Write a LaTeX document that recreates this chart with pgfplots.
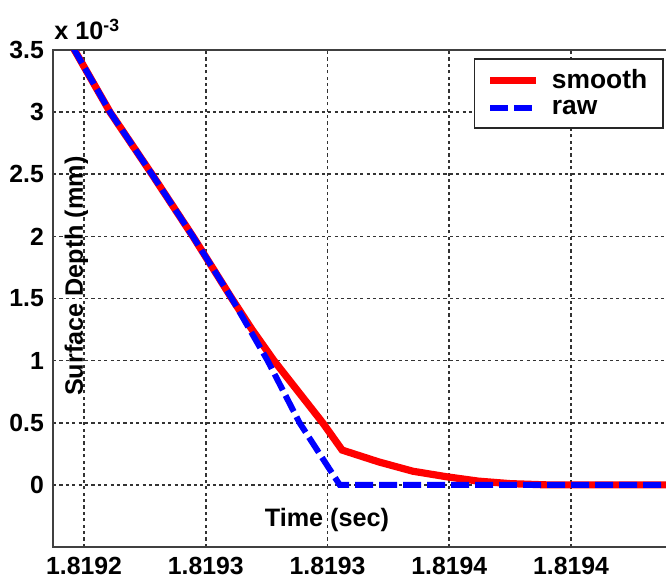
\documentclass[border=0pt]{standalone}
\usepackage{pgfplots}
\pgfplotsset{compat=1.18}
\usepackage{fontspec}
\setmainfont{Liberation Sans}

% x is stored as (t - 1.8192 s) in units of 1e-5 s; y in units of 1e-3 mm
\begin{document}
\begin{tikzpicture}[x=1pt,y=1pt]
\begin{axis}[
  name=ax,
  at={(26.5pt,16.5pt)}, anchor=south west,
  scale only axis, width=307.5pt, height=248.5pt,
  xmin=-1.273, xmax=23.98, ymin=-0.5, ymax=3.5,
  xtick={0,5,10,15,20},
  xticklabels={1.8192,1.8193,1.8193,1.8194,1.8194},
  ytick={0,0.5,1,1.5,2,2.5,3,3.5},
  yticklabels={0,0.5,1,1.5,2,2.5,3,3.5},
  grid=major,
  major grid style={black!80, line width=0.85pt, dash pattern=on 1.6pt off 1.6pt},
  major tick length=0pt,
  axis line style={black!75, line width=1.1pt},
  tick label style={font=\bfseries\fontsize{12.4}{14}\selectfont},
  xticklabel style={yshift=-2.5pt, inner ysep=2.5pt},
  yticklabel style={xshift=-1pt},
  xlabel={Time (sec)},
  ylabel={Surface Depth (mm)},
  label style={font=\bfseries\fontsize{12.6}{14}\selectfont},
  xlabel style={at={(axis description cs:0.4455,0.054)}, anchor=center},
  ylabel style={at={(axis description cs:0.038,0.545)}, anchor=center},
  legend cell align=left,
  legend style={at={(0.9935,0.984)}, anchor=north east,
    draw=black!85, line width=0.8pt, fill=white,
    font=\bfseries\fontsize{13.2}{15}\selectfont,
    inner xsep=6pt, inner ysep=3.5pt,
    /tikz/every odd column/.append style={column sep=4pt},
    /tikz/every even column/.append style={column sep=3pt}},
  legend image code/.code={\draw[#1] (0pt,0pt) -- (23pt,0pt);},
]
\addplot[red, line width=3.6pt] coordinates {
  (-0.45,3.52) (1.07,3) (2.79,2.5) (4.47,2) (6.07,1.5) (6.9,1.25)
  (7.8,1.0) (8.8,0.75) (9.8,0.5) (10.6,0.28) (12.1,0.185) (13.5,0.11)
  (14.9,0.065) (16.2,0.03) (17.5,0.01) (19,0) (24.5,0)
};
\addlegendentry{smooth}
\addplot[blue, line width=3pt, dash pattern=on 9pt off 3pt] coordinates {
  (-0.45,3.52) (1.07,3) (2.79,2.5) (4.47,2) (6.07,1.5) (7.54,1)
  (8.85,0.5) (10.5,0) (24.5,0)
};
\addlegendentry{raw}
\end{axis}
\node[anchor=base west, font=\bfseries\fontsize{12.6}{14}\selectfont, inner sep=0pt]
  at (27pt,270pt) {x 10\textsuperscript{-3}};
\pgfresetboundingbox
\path[use as bounding box] (0,0) rectangle (333pt,290pt);
\end{tikzpicture}
\end{document}
